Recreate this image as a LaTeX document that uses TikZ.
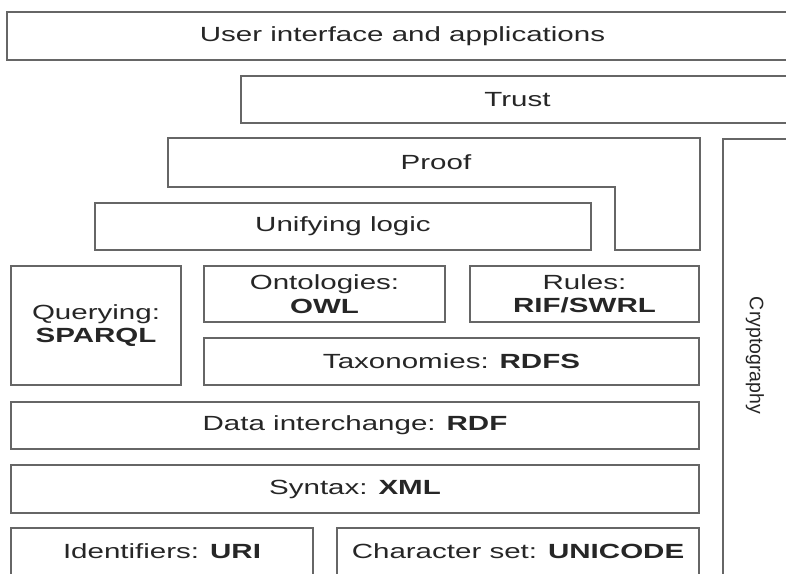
\documentclass[tikz,border=0pt]{standalone}
\usepackage{fontspec}
\setmainfont[FakeStretch=1.44]{Liberation Sans}
\newfontfamily\plainsans{Liberation Sans}
\definecolor{linec}{HTML}{666666}
\definecolor{textc}{HTML}{262626}
\begin{document}
\begin{tikzpicture}[x=1pt,y=-1pt,
  box/.style={draw=linec, line width=1.4pt, inner sep=0pt, align=center, text=textc,
    font=\fontsize{20.5}{23.5}\selectfont},
  lbl/.style={inner sep=0pt, align=center, text=textc, font=\fontsize{20.5}{23.5}\selectfont}]
\useasboundingbox (0,0) rectangle (786,573);
\clip (0,0) rectangle (786,573);
\fill[white] (0,0) rectangle (786,573);
% top layers
\node[box, minimum width=791pt, minimum height=48pt] (ui) at (402.5,36) {User interface and applications};
\node[box, minimum width=553pt, minimum height=47pt] (trust) at (517.5,99.5) {Trust};
% proof (L-shaped)
\draw[draw=linec, line width=1.4pt, line join=miter]
  (168,138) -- (700,138) -- (700,250) -- (615,250) -- (615,187) -- (168,187) -- cycle;
\node[lbl] (proof) at (436,162.5) {Proof};
\node[box, minimum width=496pt, minimum height=47pt] (logic) at (343,226.5) {Unifying logic};
% cryptography column
\node[box, minimum width=68pt, minimum height=436pt] (crypto) at (757,357) {};
\node[lbl, rotate=-90, font=\plainsans\fontsize{19.5}{22}\selectfont] (cryptot) at (755,355.5) {Cryptography};
% middle layers
\node[box, minimum width=170pt, minimum height=119pt] (query) at (96,325.5) {Querying:\\\textbf{SPARQL}};
\node[box, minimum width=241pt, minimum height=56pt] (onto) at (324.5,294) {Ontologies:\\\textbf{OWL}};
\node[box, minimum width=229pt, minimum height=56pt] (rules) at (584.5,294) {Rules:\\\textbf{RIF/SWRL}};
\node[box, minimum width=495pt, minimum height=47pt] (rdfs) at (451.5,361.5) {Taxonomies: \textbf{RDFS}};
\node[box, minimum width=688pt, minimum height=47pt] (rdf) at (355,425.5) {Data interchange: \textbf{RDF}};
\node[box, minimum width=688pt, minimum height=48pt] (xml) at (355,489) {Syntax: \textbf{XML}};
\node[box, minimum width=302pt, minimum height=47pt] (uri) at (162,551.5) {Identifiers: \textbf{URI}};
\node[box, minimum width=362pt, minimum height=47pt] (unicode) at (518,551.5) {Character set: \textbf{UNICODE}};
\end{tikzpicture}
\end{document}
